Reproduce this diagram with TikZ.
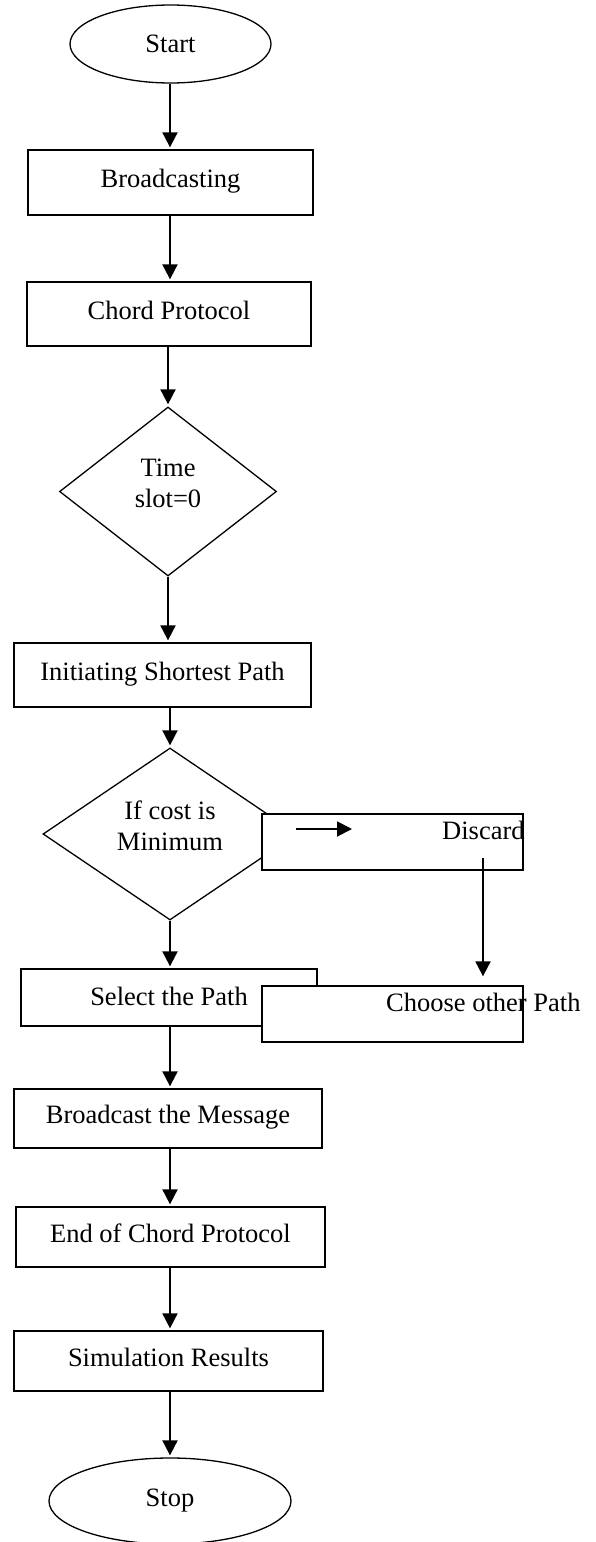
\documentclass[tikz,border=0pt]{standalone}
\usepackage{fontspec}
\setmainfont{Liberation Serif}
\usetikzlibrary{shapes.geometric,arrows.meta}
\begin{document}
\begin{tikzpicture}[x=1pt,y=-1pt,
  every node/.style={font=\fontsize{26.5}{31}\selectfont},
  box/.style={draw, line width=1.3pt, fill=white, rectangle, inner sep=0pt,
              text height=17pt, text depth=7pt},
  term/.style={draw, line width=1.3pt, fill=white, ellipse, inner sep=0pt},
  decision/.style={draw, line width=1.3pt, fill=white, diamond, inner sep=0pt, align=center, text depth=16pt},
  lbl/.style={inner sep=0pt, anchor=base west},
  arr/.style={line width=1.9pt, -{Triangle[length=15pt,width=15pt]}, shorten >=2pt}]
\useasboundingbox (0,0) rectangle (595,1542);
\coordinate (ax) at (170,0);

\node[term, minimum width=201pt, minimum height=78pt] (start) at (170.5,44) {Start};
\node[box, minimum width=285pt, minimum height=65pt] (bc) at (170.5,182.5) {Broadcasting};
\node[box, minimum width=284pt, minimum height=64pt] (chord) at (169,314) {Chord Protocol};
\node[decision, minimum width=217pt, minimum height=169pt] (dec1) at (168,491.5) {Time\\slot=0};
\node[box, minimum width=297pt, minimum height=64pt] (init) at (162.5,675) {Initiating Shortest Path};
\node[decision, minimum width=254pt, minimum height=172pt] (dec2) at (170,834) {If cost is\\Minimum};
\node[box, minimum width=261pt, minimum height=56pt] (discard) at (392.5,842) {};
\node[lbl] (discardtxt) at (442,839) {Discard};
\node[box, minimum width=296pt, minimum height=57pt, text height=20pt, text depth=5pt] (select) at (169,997.5) {Select the Path};
\node[box, minimum width=261pt, minimum height=56pt] (choose) at (392.5,1014) {};
\node[lbl] (choosetxt) at (386,1011) {Choose other Path};
\node[box, minimum width=308pt, minimum height=59pt] (bcm) at (168,1118.5) {Broadcast the Message};
\node[box, minimum width=309pt, minimum height=60pt] (endp) at (170.5,1237) {End of Chord Protocol};
\node[box, minimum width=309pt, minimum height=60pt] (sim) at (168.5,1361) {Simulation Results};
\node[term, minimum width=242pt, minimum height=86pt] (stop) at (170,1501) {Stop};

\draw[arr] (start.south -| ax) -- (bc.north -| ax);
\draw[arr] (bc.south -| ax) -- (chord.north -| ax);
\draw[arr] (chord.south -| dec1.north) -- (dec1.north);
\draw[arr] (dec1.south) -- (init.north -| dec1.south);
\draw[arr] (init.south -| dec2.north) -- (dec2.north);
\draw[arr] (dec2.south) -- (select.north -| dec2.south);
\draw[arr] (select.south -| ax) -- (bcm.north -| ax);
\draw[arr] (bcm.south -| ax) -- (endp.north -| ax);
\draw[arr] (endp.south -| ax) -- (sim.north -| ax);
\draw[arr] (sim.south -| ax) -- (stop.north -| ax);

\coordinate (s1) at (296,829);
\coordinate (s2) at (352,829);
\draw[arr, shorten >=0pt] (s1) -- (s2);
\coordinate (dd) at (483,858);
\draw[arr, shorten >=9pt] (dd) -- (choose.north -| dd);
\end{tikzpicture}
\end{document}
